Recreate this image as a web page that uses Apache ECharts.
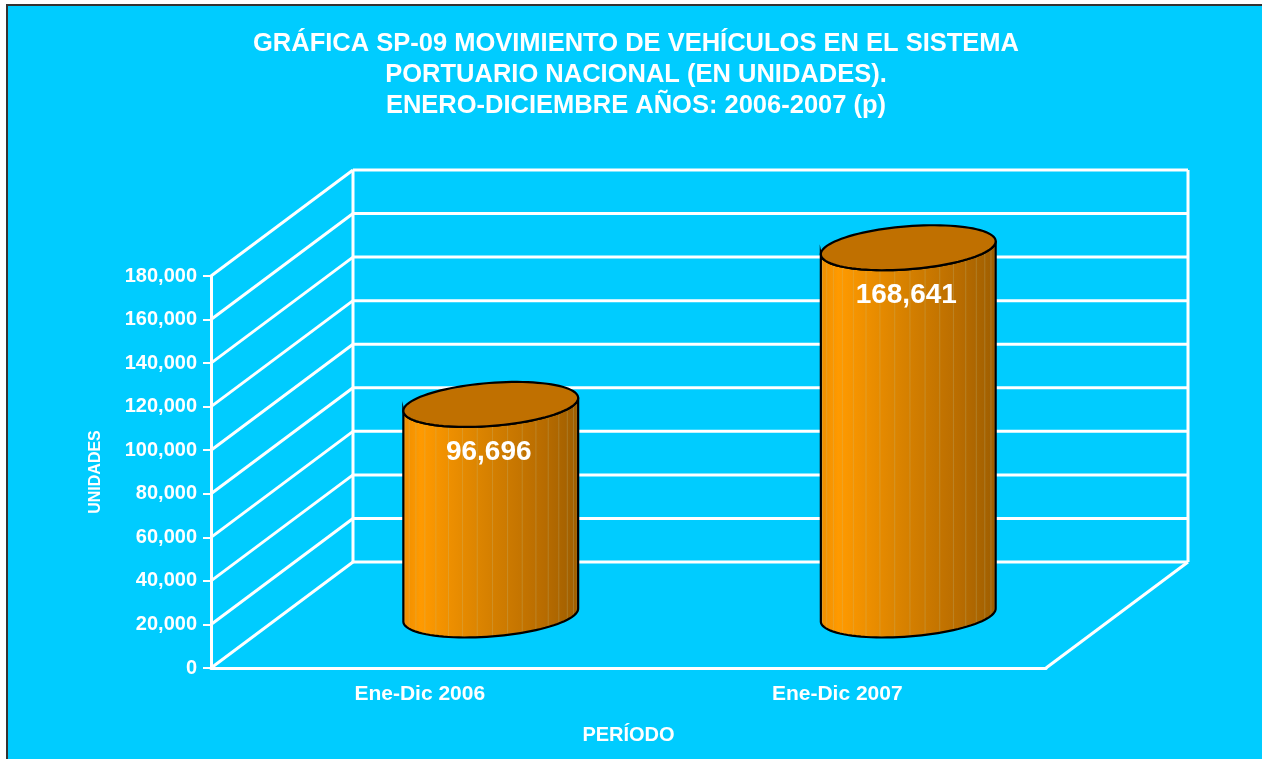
<!DOCTYPE html>
<html>
<head>
<meta charset="utf-8">
<title>Gráfica SP-09</title>
<script src="https://cdn.jsdelivr.net/npm/echarts@6/dist/echarts.min.js"></script>
<style>
  html, body { margin: 0; padding: 0; background: #fff; }
  #marco { position: absolute; left: 6px; top: 4px; width: 1254px; height: 760px; background: #00CCFF; border: 2px solid #333; }
  #chart { position: absolute; left: 0; top: 0; width: 1262px; height: 759px; }
</style>
</head>
<body>
<div id="marco"></div>
<div id="chart"></div>
<script>
// datos de la grafica
var periodos = ['Ene-Dic 2006', 'Ene-Dic 2007'];
var unidades = [96696, 168641];
var marcasY = [0, 20000, 40000, 60000, 80000, 100000, 120000, 140000, 160000, 180000];

var FUENTE = '"Liberation Sans", Arial, sans-serif';
// desplazamiento de la profundidad (efecto 3D)
var DX = 142, DY = -106;
var GIRO = -4.5 * Math.PI / 180;

function fmt(v) { return Number(v).toLocaleString('en-US'); }

// punto sobre la elipse inclinada
function elipse(cx, cy, rx, ry, t) {
  var c = Math.cos(t), s = Math.sin(t);
  return [
    cx + rx * c * Math.cos(GIRO) - ry * s * Math.sin(GIRO),
    cy + rx * c * Math.sin(GIRO) + ry * s * Math.cos(GIRO)
  ];
}

// paredes y piso con sus lineas de division
function pared(params, api) {
  var cs = params.coordSys;
  var v = api.value(1);
  var y = api.coord([0, v])[1];
  var x0 = cs.x, x1 = cs.x + cs.width;
  var est = { stroke: '#fff', lineWidth: 3 };
  var hijos = [
    { type: 'line', shape: { x1: x0, y1: y, x2: x0 + DX, y2: y + DY }, style: est },
    { type: 'line', shape: { x1: x0 + DX, y1: y + DY, x2: x1 + DX, y2: y + DY }, style: est }
  ];
  if (v === 0) {
    hijos.push({ type: 'line', shape: { x1: x1, y1: y, x2: x1 + DX, y2: y + DY }, style: est });
    hijos.push({ type: 'line', shape: { x1: x0 + DX, y1: cs.y + DY, x2: x0 + DX, y2: y + DY }, style: est });
    hijos.push({ type: 'line', shape: { x1: x1 + DX, y1: cs.y + DY, x2: x1 + DX, y2: y + DY }, style: est });
  }
  return { type: 'group', children: hijos };
}

// cilindros
function cilindro(params, api) {
  var idx = api.value(0);
  var val = api.value(1);
  var arriba = api.coord([idx, val]);
  var base = api.coord([idx, 0]);
  var banda = api.size([1, 0])[0];
  var cx = arriba[0] + DX / 2;
  var yTop = arriba[1] + DY / 2;
  var yBot = base[1] + DY / 2;
  var rx = banda * 0.21, ry = rx * 0.245;
  var N = 48, i, t;

  var cuerpo = [];
  for (i = 0; i <= N; i++) { t = Math.PI * i / N; cuerpo.push(elipse(cx, yBot, rx, ry, t)); }
  for (i = N; i >= 0; i--) { t = Math.PI * i / N; cuerpo.push(elipse(cx, yTop, rx, ry, t)); }

  var tapa = [];
  for (i = 0; i < N * 2; i++) { t = Math.PI * i / N; tapa.push(elipse(cx, yTop, rx, ry, t)); }

  var hijos = [{
    type: 'polygon',
    shape: { points: cuerpo },
    style: {
      fill: new echarts.graphic.LinearGradient(0, 0, 1, 0, [
        { offset: 0, color: '#EE8E00' },
        { offset: 0.1, color: '#FF9A00' },
        { offset: 0.45, color: '#DA8300' },
        { offset: 0.8, color: '#B86C00' },
        { offset: 1, color: '#9E5E00' }
      ]),
      stroke: 'none'
    }
  }];

  // facetas finas del cilindro
  for (i = 1; i < 18; i++) {
    t = Math.PI - Math.PI * i / 18;
    var pb = elipse(cx, yBot, rx, ry, t);
    var pt = elipse(cx, yTop, rx, ry, t);
    hijos.push({
      type: 'line',
      shape: { x1: pb[0], y1: pb[1], x2: pt[0], y2: pt[1] },
      style: { stroke: 'rgba(190,200,150,0.25)', lineWidth: 1 }
    });
  }

  hijos.push({
    type: 'polygon',
    shape: { points: cuerpo },
    style: { fill: 'none', stroke: '#000', lineWidth: 2.2 }
  });
  hijos.push({
    type: 'polygon',
    shape: { points: tapa },
    style: { fill: '#C07000', stroke: '#000', lineWidth: 2.2 }
  });
  hijos.push({
    type: 'text',
    x: cx - 2,
    y: yTop + 48,
    style: {
      text: fmt(val),
      fill: '#fff',
      fontSize: 28,
      fontWeight: 'bold',
      fontFamily: FUENTE,
      align: 'center',
      verticalAlign: 'middle'
    }
  });
  return { type: 'group', children: hijos };
}

var datosPared = marcasY.map(function (v) { return [0, v]; });
var datosCil = unidades.map(function (v, i) { return [i, v]; });

var myChart = echarts.init(document.getElementById('chart'));
myChart.setOption({
  backgroundColor: 'transparent',
  animation: false,
  title: {
    text: 'GRÁFICA SP-09 MOVIMIENTO DE VEHÍCULOS EN EL SISTEMA\nPORTUARIO NACIONAL (EN UNIDADES).\nENERO-DICIEMBRE AÑOS: 2006-2007 (p)',
    left: 631,
    top: 23,
    textAlign: 'center',
    textStyle: { color: '#fff', fontSize: 25.5, fontWeight: 'bold', lineHeight: 31, fontFamily: FUENTE }
  },
  grid: { left: 211, right: 216, top: 276, bottom: 91 },
  xAxis: {
    type: 'category',
    data: periodos,
    name: 'PERÍODO',
    nameLocation: 'middle',
    nameGap: 57,
    nameTextStyle: { color: '#fff', fontSize: 20, fontWeight: 'bold', fontFamily: FUENTE },
    axisLine: { lineStyle: { color: '#fff', width: 3 } },
    axisTick: { length: 8, lineStyle: { color: '#fff', width: 2 } },
    axisLabel: { color: '#fff', fontSize: 21, fontWeight: 'bold', fontFamily: FUENTE, margin: 16 },
    splitLine: { show: false }
  },
  yAxis: {
    type: 'value',
    min: 0,
    max: 180000,
    interval: 20000,
    name: 'UNIDADES',
    nameLocation: 'middle',
    nameGap: 107,
    nameTextStyle: { color: '#fff', fontSize: 16, fontWeight: 'bold', fontFamily: FUENTE },
    axisLine: { show: true, lineStyle: { color: '#fff', width: 3 } },
    axisTick: { show: true, length: 8, lineStyle: { color: '#fff', width: 2 } },
    axisLabel: { color: '#fff', fontSize: 20, fontWeight: 'bold', fontFamily: FUENTE, margin: 14, formatter: fmt },
    splitLine: { show: false }
  },
  series: [
    { type: 'custom', name: 'pared', renderItem: pared, data: datosPared, z: 1, silent: true },
    { type: 'custom', name: 'Unidades', renderItem: cilindro, data: datosCil, z: 3 }
  ]
});
</script>
</body>
</html>
